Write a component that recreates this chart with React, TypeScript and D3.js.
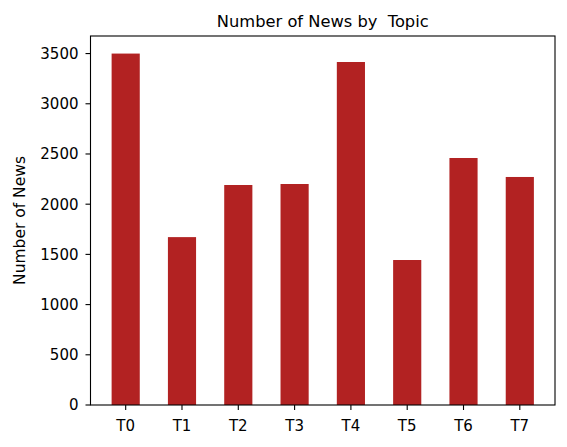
import React from "react";
import * as d3 from "d3";

const categories = ["T0", "T1", "T2", "T3", "T4", "T5", "T6", "T7"];
const counts = [3500, 1672, 2191, 2201, 3416, 1444, 2460, 2271];
const yTicks = [0, 500, 1000, 1500, 2000, 2500, 3000, 3500];
const titleText = "Number of News by  Topic";
const yLabelText = "Number of News";

const W = 567;
const H = 447;
const L = 90.5, R = 555, T = 36, B = 405;
const FONT = "DejaVu Sans";
const COLOR = "#b22222";

export default function App() {
  const x = d3.scaleLinear().domain([-0.625, categories.length - 1 + 0.625]).range([L, R]);
  const yMax = d3.max(counts)! * 1.05;
  const y = d3.scaleLinear().domain([0, yMax]).range([B, T]);
  const bw = x(0.5) - x(0);
  const tickLen = 5;
  return (
    <svg width={W} height={H} style={{ position: "absolute", left: 0, top: 0, background: "#fff" }}
      fontFamily={FONT}>
      <rect x={0} y={0} width={W} height={H} fill="#fff" />
      {categories.map((c, i) => (
        <rect key={c} x={x(i) - bw / 2} y={y(counts[i])} width={bw} height={y(0) - y(counts[i])} fill={COLOR} />
      ))}
      <rect x={L} y={T} width={R - L} height={B - T} fill="none" stroke="#000" strokeWidth={1.1} />
      {yTicks.map((t) => (
        <g key={t}>
          <line x1={L - tickLen} x2={L} y1={y(t)} y2={y(t)} stroke="#000" strokeWidth={1.1} />
          <text x={78.5} y={y(t)} dy="0.36em" textAnchor="end" fontSize={15} fill="#000">{t}</text>
        </g>
      ))}
      {categories.map((c, i) => (
        <g key={c}>
          <line x1={x(i)} x2={x(i)} y1={B} y2={B + tickLen} stroke="#000" strokeWidth={1.1} />
          <text x={x(i)} y={431} textAnchor="middle" fontSize={15} fill="#000">{c}</text>
        </g>
      ))}
      <text x={(L + R) / 2} y={27} textAnchor="middle" fontSize={16.3} fill="#000" style={{ whiteSpace: "pre" }}>{titleText}</text>
      <text transform={`translate(24.5,${(T + B) / 2}) rotate(-90)`} textAnchor="middle" fontSize={15.5} fill="#000">{yLabelText}</text>
    </svg>
  );
}
